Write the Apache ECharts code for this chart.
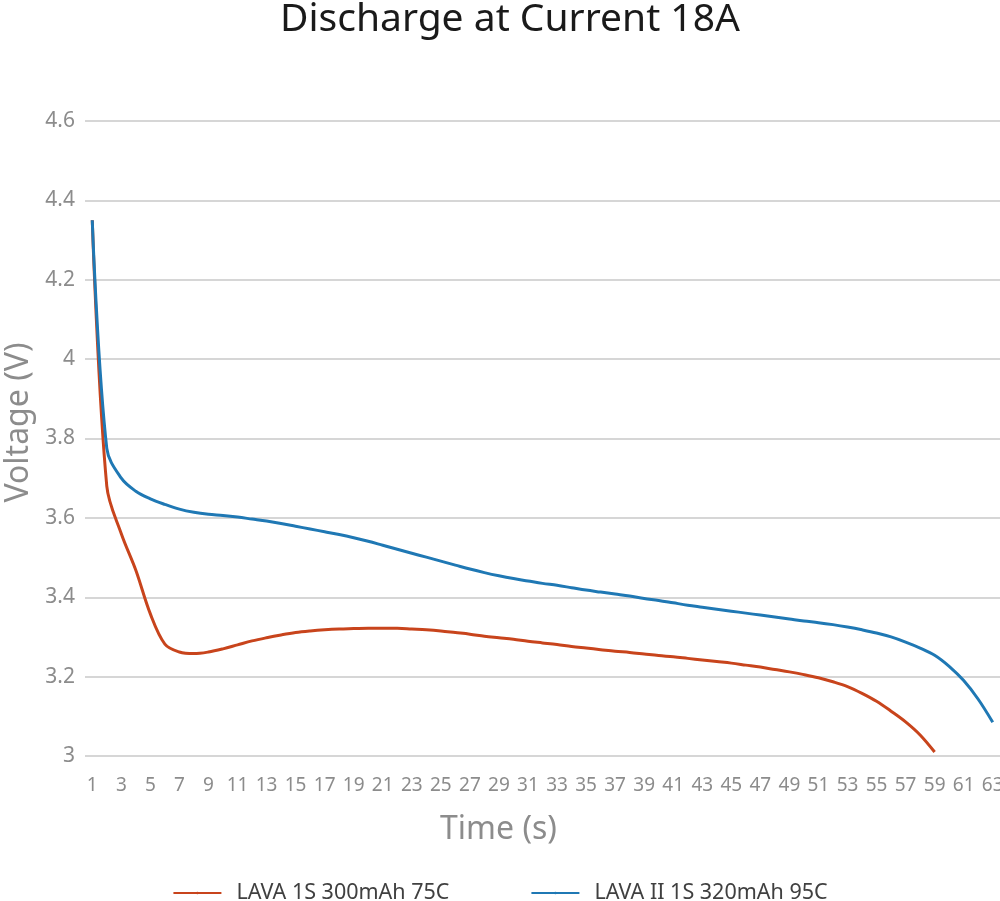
<!DOCTYPE html>
<html>
<head>
<meta charset="utf-8">
<script src="https://cdn.jsdelivr.net/npm/echarts@6/dist/echarts.min.js"></script>
<style>
html,body{margin:0;padding:0;background:#fff;}
#chart{width:1000px;height:901px;}
</style>
</head>
<body>
<div id="chart"></div>
<script>
const categories = [];
for (let i = 1; i <= 63; i++) categories.push(String(i));

const lava1 = [
  4.35, 3.68, 3.56, 3.468, 3.358, 3.282, 3.262, 3.258, 3.262, 3.27,
  3.28, 3.29, 3.298, 3.305, 3.311, 3.315, 3.318, 3.32, 3.321, 3.322,
  3.322, 3.322, 3.32, 3.318, 3.315, 3.311, 3.307, 3.302, 3.298, 3.294,
  3.289, 3.285, 3.281, 3.276, 3.272, 3.268, 3.264, 3.261, 3.257, 3.253,
  3.25, 3.246, 3.242, 3.238, 3.234, 3.229, 3.224, 3.218, 3.212, 3.205,
  3.197, 3.187, 3.175, 3.158, 3.138, 3.113, 3.086, 3.053, 3.01
];

const lava2 = [
  4.35, 3.775, 3.70, 3.667, 3.648, 3.634, 3.622, 3.614, 3.609, 3.606,
  3.602, 3.597, 3.592, 3.586, 3.579, 3.572, 3.565, 3.558, 3.55, 3.541,
  3.531, 3.521, 3.511, 3.501, 3.491, 3.481, 3.471, 3.462, 3.454, 3.447,
  3.441, 3.435, 3.43, 3.424, 3.418, 3.413, 3.408, 3.403, 3.397, 3.392,
  3.386, 3.38, 3.375, 3.37, 3.365, 3.36, 3.355, 3.35, 3.345, 3.34,
  3.336, 3.331, 3.325, 3.318, 3.31, 3.30, 3.287, 3.272, 3.254, 3.226,
  3.19, 3.143, 3.085
];

const seriesNames = ['LAVA 1S 300mAh 75C', 'LAVA II 1S 320mAh 95C'];

const chart = echarts.init(document.getElementById('chart'));
const font = 'Noto Sans';
chart.setOption({
  backgroundColor: '#ffffff',
  animation: false,
  title: {
    text: 'Discharge at Current 18A',
    left: 280,
    top: 0,
    padding: 0,
    textStyle: { fontFamily: font, fontSize: 39, fontWeight: 'normal', color: '#1a1a1a' }
  },
  legend: {
    top: 877,
    left: 'center',
    itemWidth: 48,
    itemHeight: 3,
    itemGap: 81,
    textStyle: { fontFamily: font, fontSize: 21.5, color: '#404040', padding: [0, 0, 0, 10] },
    data: seriesNames
  },
  grid: { left: 85, right: 0, top: 121, bottom: 145, containLabel: false, outerBoundsMode: 'none' },
  xAxis: {
    type: 'category',
    data: categories,
    boundaryGap: true,
    name: 'Time (s)',
    nameLocation: 'middle',
    nameGap: 58,
    nameTextStyle: { fontFamily: font, fontSize: 32, color: '#8c8c8c', padding: [0, 88, 0, 0] },
    axisLine: { show: false },
    axisTick: { show: false },
    axisLabel: { interval: 1, fontFamily: font, fontSize: 19, color: '#8c8c8c', margin: 20 }
  },
  yAxis: {
    type: 'value',
    min: 3,
    max: 4.6,
    interval: 0.2,
    name: 'Voltage (V)',
    nameLocation: 'middle',
    nameGap: 48,
    nameTextStyle: { fontFamily: font, fontSize: 32, color: '#8c8c8c', padding: [0, 0, 0, 32] },
    axisLine: { show: false },
    axisTick: { show: false },
    axisLabel: { fontFamily: font, fontSize: 21, color: '#8c8c8c', margin: 10 },
    splitLine: { lineStyle: { color: '#c8c8c8', width: 1.5 } }
  },
  series: [
    {
      name: seriesNames[0],
      type: 'line',
      data: lava1,
      smooth: 0.35,
      symbol: 'none',
      lineStyle: { color: '#c8441c', width: 3 },
      itemStyle: { color: '#c8441c' },
      z: 2
    },
    {
      name: seriesNames[1],
      type: 'line',
      data: lava2,
      smooth: 0.35,
      symbol: 'none',
      lineStyle: { color: '#1f78b4', width: 3 },
      itemStyle: { color: '#1f78b4' },
      z: 3
    }
  ]
});
</script>
</body>
</html>
